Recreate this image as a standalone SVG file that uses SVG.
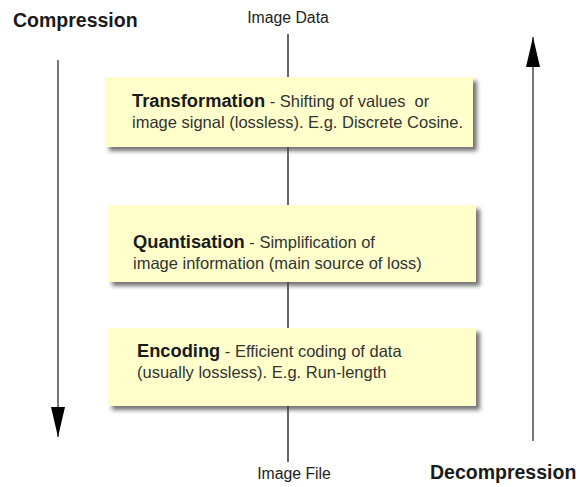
<svg xmlns="http://www.w3.org/2000/svg" width="583" height="487" viewBox="0 0 583 487">
  <defs>
    <filter id="shadow" x="-5%" y="-10%" width="115%" height="130%">
      <feDropShadow dx="4" dy="4" stdDeviation="2" flood-color="#444" flood-opacity="0.75"/>
    </filter>
    <marker id="head" viewBox="0 0 30 14" refX="30" refY="7" markerWidth="30" markerHeight="14" markerUnits="userSpaceOnUse" orient="auto">
      <path d="M0,0 L30,7 L0,14 Z" fill="#000"/>
    </marker>
  </defs>
  <style>
    .box { fill: #ffffcc; filter: url(#shadow); }
    .title { font-family: "Liberation Sans", Arial, sans-serif; font-weight: bold; font-size: 18.3px; fill: #1a1a1a; }
    .body { font-family: "Liberation Sans", Arial, sans-serif; font-size: 16.5px; fill: #333; white-space: pre; }
    .label { font-family: "Liberation Sans", Arial, sans-serif; font-size: 15.8px; fill: #222; }
    .heading { font-family: "Liberation Sans", Arial, sans-serif; font-weight: bold; font-size: 19.5px; fill: #1a1a1a; }
    .flow { stroke: #000; stroke-width: 1.2; fill: none; }
    .side { stroke: #777; stroke-width: 2; fill: none; }
  </style>
  <rect width="583" height="487" fill="#fff"/>

  <!-- connectors -->
  <g id="connectors">
    <line class="flow" x1="288" y1="34" x2="288" y2="80"/>
    <line class="flow" x1="288" y1="145" x2="288" y2="208"/>
    <line class="flow" x1="288" y1="280" x2="288" y2="332"/>
    <line class="flow" x1="288" y1="405" x2="288" y2="462"/>
    <line class="side" x1="58" y1="60" x2="58" y2="437" marker-end="url(#head)"/>
    <line class="side" x1="533" y1="441" x2="533" y2="37" marker-end="url(#head)"/>
  </g>

  <!-- side headings -->
  <g id="compression">
    <text class="heading" x="13" y="27">Compression</text>
  </g>
  <g id="decompression">
    <text class="heading" x="430" y="479">Decompression</text>
  </g>

  <!-- end points -->
  <g id="image-data">
    <text class="label" x="288" y="23" text-anchor="middle">Image Data</text>
  </g>
  <g id="image-file">
    <text class="label" x="294" y="479" text-anchor="middle">Image File</text>
  </g>

  <!-- stages -->
  <g id="transformation">
    <rect class="box" x="105" y="77" width="368" height="70"/>
    <text x="132" y="107"><tspan class="title">Transformation</tspan><tspan class="body"> - Shifting of values  or</tspan></text>
    <text class="body" x="132" y="128">image signal (lossless). E.g. Discrete Cosine.</text>
  </g>
  <g id="quantisation">
    <rect class="box" x="108" y="205" width="368" height="77"/>
    <text x="133" y="248"><tspan class="title">Quantisation</tspan><tspan class="body"> - Simplification of</tspan></text>
    <text class="body" x="133" y="269">image information (main source of loss)</text>
  </g>
  <g id="encoding">
    <rect class="box" x="108" y="328" width="368" height="78"/>
    <text x="137" y="357"><tspan class="title">Encoding</tspan><tspan class="body"> - Efficient coding of data</tspan></text>
    <text class="body" x="137" y="378">(usually lossless). E.g. Run-length</text>
  </g>
</svg>
